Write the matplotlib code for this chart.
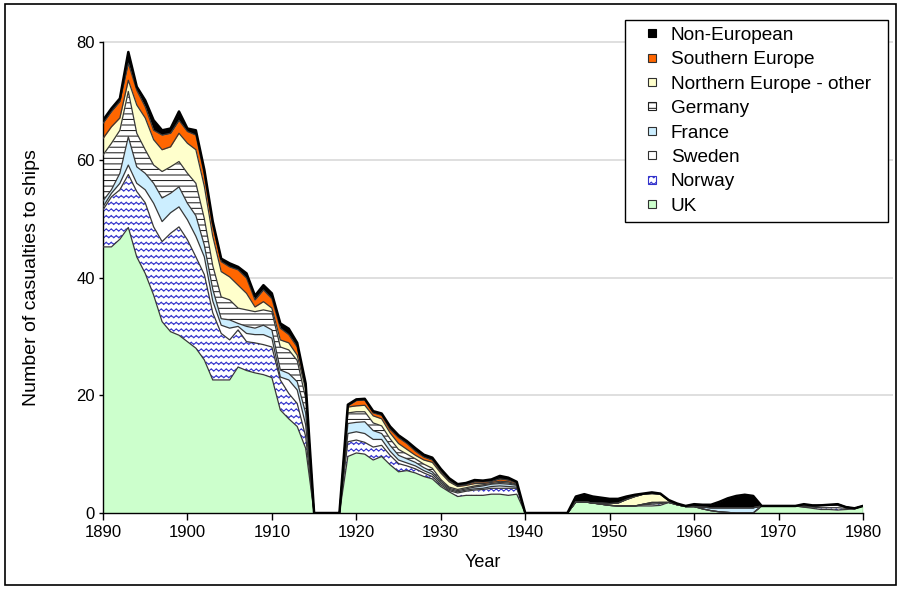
import warnings
import numpy as np
import matplotlib
matplotlib.use('Agg')
import matplotlib.pyplot as plt
import matplotlib.patches as mpatches
import matplotlib.hatch as mhatch
from matplotlib.path import Path
from matplotlib.legend_handler import HandlerPatch

warnings.filterwarnings('ignore')

years = np.arange(1890, 1981)

# casualties per year by flag (1890-1980)
uk = [45.2, 45.2, 46.5, 48.5, 43.5, 40.7, 37.0, 32.5, 30.8, 30.2,
      29.1, 28.0, 26.0, 22.6, 22.6, 22.6, 24.8, 24.2, 23.8, 23.5,
      23.0, 17.5, 16.0, 14.7, 11.0, 0, 0, 0, 0, 9.6,
      10.2, 10.0, 9.0, 9.6, 8.2, 7.0, 7.2, 6.8, 6.2, 5.8,
      4.5, 3.6, 2.8, 3.0, 3.0, 3.0, 3.2, 3.2, 3.0, 3.2,
      0, 0, 0, 0, 0, 0, 1.9, 1.9, 1.7, 1.5,
      1.3, 1.2, 1.2, 1.2, 1.2, 1.2, 1.3, 1.8, 1.4, 1.1,
      1.1, 0.7, 0.4, 0.2, 0.1, 0, 0, 0, 1.2, 1.2,
      1.2, 1.2, 1.2, 1.0, 0.8, 0.6, 0.6, 0.5, 0.6, 0.7,
      1.2]
norway = [6.3, 8.5, 8.4, 9.0, 11.1, 12.0, 11.6, 13.6, 16.7, 18.4,
          17.3, 15.5, 14.5, 11.4, 7.9, 6.8, 6.3, 4.9, 5.1, 5.1,
          5.2, 5.1, 4.3, 3.9, 2.0, 0, 0, 0, 0, 2.5,
          2.2, 2.0, 2.2, 1.9, 1.6, 1.4, 0.8, 0.7, 0.6, 0.4,
          0.3, 0.2, 0.6, 0.7, 0.9, 1.0, 1.0, 1.0, 1.2, 1.0,
          0, 0, 0, 0, 0, 0, 0, 0, 0, 0,
          0, 0, 0, 0, 0.2, 0.3, 0.3, 0, 0, 0,
          0, 0, 0, 0, 0, 0, 0, 0, 0, 0,
          0, 0, 0, 0, 0.2, 0.3, 0.3, 0.4, 0.2, 0,
          0]
sweden = [0.5, 0.6, 1.1, 1.6, 1.4, 2.2, 4.0, 3.4, 3.5, 3.4,
          3.4, 3.5, 3.0, 2.0, 1.4, 2.0, 0.6, 1.4, 1.4, 1.7,
          1.5, 0.5, 2.3, 2.3, 2.0, 0, 0, 0, 0, 1.4,
          1.4, 1.5, 1.3, 1.0, 0.7, 0.6, 0.5, 0.5, 0.4, 0.4,
          0.3, 0.2, 0.2, 0.2, 0.2, 0.2, 0.3, 0.4, 0.3, 0.2,
          0, 0, 0, 0, 0, 0, 0, 0, 0, 0,
          0, 0, 0, 0, 0.1, 0.2, 0.2, 0, 0, 0,
          0, 0, 0, 0, 0, 0, 0, 0, 0, 0,
          0, 0, 0, 0.2, 0.2, 0.4, 0.4, 0.4, 0.2, 0.1,
          0]
france = [1.0, 0.6, 1.7, 4.8, 2.8, 2.8, 3.4, 4.0, 3.3, 3.4,
          2.8, 3.5, 2.0, 2.0, 1.1, 1.4, 0.5, 1.2, 1.1, 1.6,
          1.4, 1.2, 1.1, 1.4, 2.0, 0, 0, 0, 0, 1.7,
          1.6, 2.0, 1.5, 1.0, 1.0, 0.8, 0.7, 0.6, 0.5, 0.4,
          0.3, 0.2, 0.2, 0.2, 0.3, 0.4, 0.4, 0.4, 0.4, 0.3,
          0, 0, 0, 0, 0, 0, 0, 0, 0, 0,
          0, 0, 0, 0, 0, 0.1, 0, 0, 0, 0,
          0, 0.3, 0.5, 0.7, 0.8, 0.9, 0.9, 0.9, 0, 0,
          0, 0, 0, 0, 0, 0, 0, 0, 0, 0,
          0]
germany = [7.8, 7.9, 7.3, 7.7, 5.7, 4.0, 3.1, 4.5, 4.5, 4.3,
           5.1, 5.5, 4.5, 4.0, 3.7, 3.4, 2.6, 2.8, 2.8, 2.6,
           3.1, 3.9, 4.0, 3.6, 2.5, 0, 0, 0, 0, 1.8,
           1.8, 1.7, 1.3, 1.3, 1.1, 1.0, 0.8, 0.6, 0.6, 0.6,
           0.3, 0.2, 0.2, 0.2, 0.2, 0.2, 0.1, 0.2, 0.2, 0.1,
           0, 0, 0, 0, 0, 0, 0, 0, 0, 0,
           0, 0, 0, 0, 0, 0, 0, 0, 0, 0,
           0, 0, 0, 0, 0, 0, 0, 0, 0, 0,
           0, 0, 0, 0, 0, 0, 0, 0.2, 0, 0,
           0]
north_other = [2.8, 2.8, 2.1, 1.9, 4.8, 5.4, 4.3, 3.7, 3.4, 4.8,
               5.1, 5.7, 5.5, 5.0, 4.3, 3.9, 3.9, 2.8, 0.8, 1.4,
               0.6, 1.2, 1.2, 0.9, 1.5, 0, 0, 0, 0, 1.0,
               1.0, 1.1, 1.2, 1.2, 1.0, 1.0, 0.8, 0.6, 0.7, 1.0,
               1.1, 0.9, 0.5, 0.4, 0.4, 0.2, 0.2, 0.2, 0.2, 0.1,
               0, 0, 0, 0, 0, 0, 0, 0, 0, 0.2,
               0.3, 0.5, 1.1, 1.6, 1.7, 1.5, 1.4, 0.3, 0, 0,
               0, 0, 0, 0, 0, 0, 0, 0, 0, 0,
               0, 0, 0, 0, 0, 0, 0, 0, 0, 0,
               0]
southern = [2.6, 2.6, 2.8, 2.9, 2.5, 1.9, 1.6, 2.5, 2.3, 2.2,
            2.0, 2.5, 2.0, 1.8, 1.7, 1.7, 2.6, 2.6, 1.2, 2.0,
            1.6, 2.0, 1.4, 1.4, 0.5, 0, 0, 0, 0, 0.2,
            0.9, 0.9, 0.5, 0.6, 0.6, 1.0, 1.0, 0.7, 0.5, 0.4,
            0.3, 0.2, 0.1, 0.2, 0.3, 0.3, 0.2, 0.4, 0.3, 0.2,
            0, 0, 0, 0, 0, 0, 0, 0, 0, 0,
            0, 0, 0, 0, 0, 0, 0, 0, 0, 0,
            0, 0, 0, 0, 0, 0, 0, 0, 0, 0,
            0, 0, 0, 0, 0, 0, 0, 0, 0, 0,
            0]
non_european = [0.5, 0.5, 0.5, 1.9, 0.6, 1.1, 1.7, 0.8, 0.8, 1.5,
                0.5, 0.8, 0.8, 0.7, 0.5, 0.6, 0.5, 0.8, 0.7, 0.8,
                0.9, 0.8, 1.0, 0.7, 0.5, 0, 0, 0, 0, 0.2,
                0.2, 0.2, 0.3, 0.3, 0.5, 0.4, 0.4, 0.5, 0.4, 0.4,
                0.4, 0.4, 0.3, 0.2, 0.3, 0.2, 0.3, 0.5, 0.4, 0.2,
                0, 0, 0, 0, 0, 0, 0.9, 1.3, 1.1, 0.9,
                0.8, 0.7, 0.5, 0.3, 0.1, 0.2, 0.1, 0.1, 0.2, 0.1,
                0.4, 0.4, 0.5, 1.0, 1.6, 2.0, 2.2, 2.0, 0, 0,
                0, 0, 0, 0.3, 0.1, 0, 0.1, 0, 0, 0,
                0]

labels = ['UK', 'Norway', 'Sweden', 'France', 'Germany',
          'Northern Europe - other', 'Southern Europe', 'Non-European']
series = [uk, norway, sweden, france, germany, north_other, southern, non_european]
faces = ['#ccffcc', 'white', 'white', '#cceeff', 'white', '#ffffcc', '#ff6600', 'black']
hatches = [None, 'www', None, None, '---', None, None, None]
hatch_cols = ['#303030', '#3333cc', '#303030', '#303030', '#202020', '#303030', '#303030', 'black']


# wavy hatch for the Norway layer
class WavyHatch(mhatch.HatchPatternBase):
    def __init__(self, hatch, density):
        self.num_lines = hatch.count('w') * 5
        self.n_seg = 80
        self.num_vertices = self.num_lines * (self.n_seg + 1)

    def set_vertices_and_codes(self, vertices, codes):
        xs = np.linspace(0.0, 1.0, self.n_seg + 1)
        wave = 0.012 * np.sin(2 * np.pi * 20 * xs)
        n = self.n_seg + 1
        for i in range(self.num_lines):
            s = (i + 0.5) / self.num_lines
            vertices[i * n:(i + 1) * n, 0] = xs
            vertices[i * n:(i + 1) * n, 1] = s + wave
            codes[i * n] = Path.MOVETO
            codes[i * n + 1:(i + 1) * n] = Path.LINETO


mhatch._hatch_types.append(WavyHatch)


def small_box(legend, orig_handle, xdescent, ydescent, width, height, fontsize):
    s = 5.8
    return mpatches.Rectangle((width - s - 5.0 - xdescent, (height - s) / 2 - ydescent), s, s)


plt.rcParams['font.family'] = ['Liberation Sans', 'DejaVu Sans']
plt.rcParams['hatch.linewidth'] = 0.75

fig = plt.figure(figsize=(9.01, 5.89), dpi=100)
ax = fig.add_axes([0.1143, 0.129, 0.8435, 0.7997])

cum = np.cumsum(np.array(series, dtype=float), axis=0)
lower = np.zeros(len(years))
for i in range(len(series)):
    ax.fill_between(years, lower, cum[i], facecolor=faces[i], hatch=hatches[i],
                    edgecolor=hatch_cols[i], linewidth=0, zorder=2)
    lower = cum[i]
for i in range(len(series) - 1):
    ax.plot(years, cum[i], color='#383838', lw=0.9, zorder=3)
ax.plot(years, cum[-1], color='black', lw=1.8, zorder=3)
ax.plot([1980, 1980], [0, cum[-1][-1]], color='#383838', lw=0.9, zorder=3)

ax.hlines([20, 40, 60, 80], 1890, 1983.5, colors='#d9d9d9', lw=1.2,
          clip_on=False, zorder=0)

ax.set_xlim(1890, 1980)
ax.set_ylim(0, 80)
ax.set_xticks(np.arange(1890, 1981, 10))
ax.set_yticks([0, 20, 40, 60, 80])
ax.tick_params(axis='x', direction='out', length=5, width=1, labelsize=12)
ax.tick_params(axis='y', direction='out', length=3, width=1, pad=3, labelsize=12)
for side in ['top', 'right']:
    ax.spines[side].set_visible(False)
ax.spines['left'].set_linewidth(1)
ax.spines['bottom'].set_linewidth(1)
ax.set_xlabel('Year', fontsize=13)
ax.set_ylabel('Number of casualties to ships', fontsize=14)
ax.xaxis.set_label_coords(0.5, -0.087)
ax.yaxis.set_label_coords(-0.083, 0.5)

handles = []
for i in reversed(range(len(series))):
    handles.append(mpatches.Patch(facecolor=faces[i], hatch=hatches[i],
                                  edgecolor=hatch_cols[i], linewidth=0.8,
                                  label=labels[i]))
leg = ax.legend(handles=handles, loc='upper left',
                bbox_to_anchor=(625 / 901, 1 - 218 / 589, 263 / 901, 198 / 589),
                bbox_transform=fig.transFigure, mode='expand', borderaxespad=0,
                fontsize=13.7, handlelength=1.64, handleheight=0.6,
                handletextpad=0.41, labelspacing=0.39, borderpad=0.36,
                fancybox=False, framealpha=1, edgecolor='black',
                handler_map={mpatches.Patch: HandlerPatch(patch_func=small_box)})
leg.get_frame().set_linewidth(1)

fig.add_artist(mpatches.Rectangle((0.006, 0.007), 0.988, 0.986, fill=False,
                                  edgecolor='black', lw=1.2,
                                  transform=fig.transFigure))

fig.savefig('out.png', dpi=100)
